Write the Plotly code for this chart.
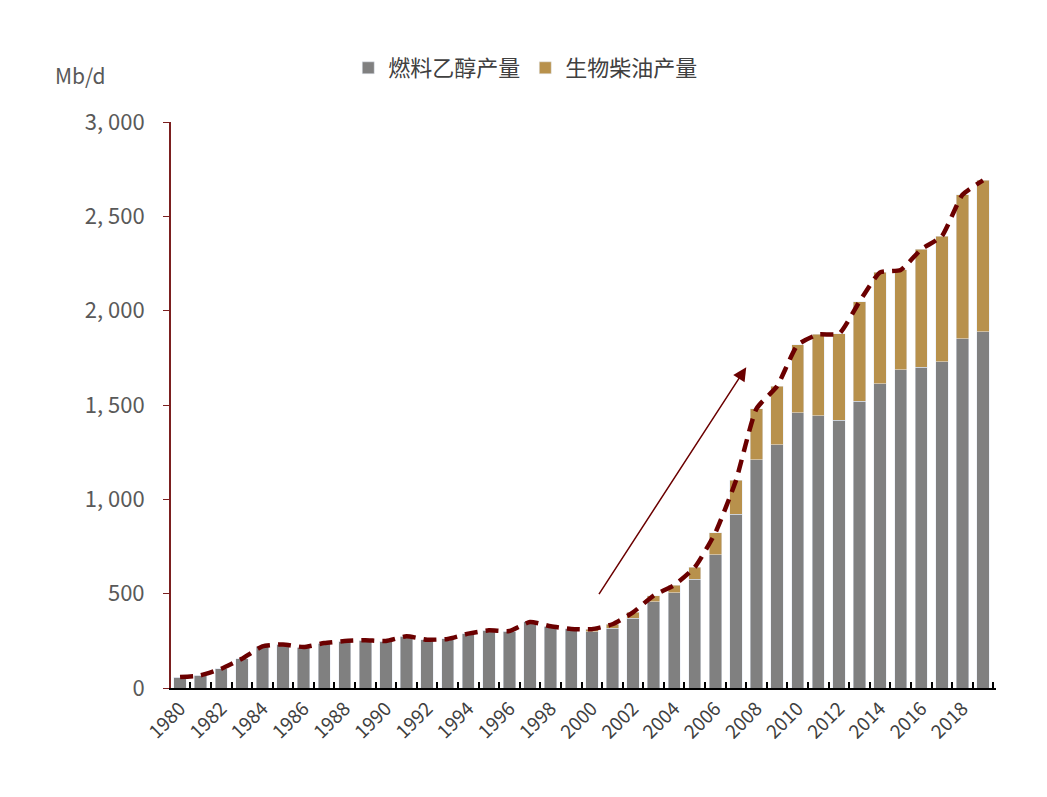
import plotly.graph_objects as go

years = list(range(1980, 2020))
ethanol = [58, 67, 102, 155, 221, 231, 217, 238, 249, 253,
           249, 274, 256, 260, 288, 306, 302, 350, 327, 313,
           297, 318, 371, 457, 505, 576, 707, 920, 1210, 1289,
           1459, 1444, 1419, 1521, 1612, 1686, 1700, 1728, 1850, 1887]
biodiesel = [0, 0, 0, 0, 0, 0, 0, 0, 0, 0,
             0, 0, 0, 0, 0, 0, 0, 0, 0, 0,
             15, 20, 30, 33, 40, 64, 116, 180, 271, 311,
             360, 430, 458, 527, 591, 530, 625, 667, 764, 804]
total = [e + b for e, b in zip(ethanol, biodiesel)]

y_ticks = [0, 500, 1000, 1500, 2000, 2500, 3000]
y_labels = ["0", "500", "1, 000", "1, 500", "2, 000", "2, 500", "3, 000"]
x_ticks = list(range(1980, 2020, 2))

grey_txt = "#595959"
dark_red = "#6B0000"

fig = go.Figure()
fig.add_trace(go.Bar(x=years, y=ethanol, name="燃料乙醇产量",
                     marker_color="#808080", width=0.6))
fig.add_trace(go.Bar(x=years, y=biodiesel, name="生物柴油产量",
                     marker_color="#B8914C", width=0.6))
fig.add_trace(go.Scatter(x=years, y=total, mode="lines", showlegend=False,
                         line=dict(color=dark_red, width=4.5, dash="13px,8px",
                                   shape="spline", smoothing=0.5)))

# trend arrow
fig.add_annotation(x=2007.5, y=1700, ax=2000.3, ay=490, xref="x", yref="y",
                   axref="x", ayref="y", showarrow=True, arrowhead=2,
                   arrowsize=1.8, arrowwidth=1.5, arrowcolor=dark_red, text="")
fig.add_annotation(x=(72 - 163) / 825, y=(688 - 75) / 566, xref="paper",
                   yref="paper", text="Mb/d", showarrow=False,
                   xanchor="center", yanchor="middle",
                   font=dict(size=21, color=grey_txt))

fig.update_layout(
    barmode="stack", width=1047, height=797,
    plot_bgcolor="white", paper_bgcolor="white",
    margin=dict(l=163, r=59, t=114, b=117),
    font=dict(family="Noto Sans CJK SC", size=20, color=grey_txt),
    legend=dict(orientation="h", x=0.43, y=(688 - 68) / 566, xanchor="center",
                yanchor="middle", traceorder="normal",
                font=dict(size=22, color="#404040")),
)
fig.update_xaxes(range=[1979.56, 2019.63], tickvals=x_ticks,
                 ticktext=[str(y) for y in x_ticks], tickangle=-45,
                 ticks="", showgrid=False, showline=True, linecolor="black",
                 linewidth=2, tickfont=dict(size=19, color="#404040"),
                 minor=dict(tickvals=[y + 0.5 for y in range(1979, 2020)],
                            ticks="inside", ticklen=6, tickcolor="black",
                            tickwidth=1.5, showgrid=False))
fig.update_yaxes(range=[0, 3000], tickvals=y_ticks, ticktext=y_labels,
                 showgrid=False, showline=True, linecolor="#7B1F1F",
                 linewidth=2, ticks="outside", tickcolor="#7B1F1F",
                 ticklen=6, ticklabelstandoff=14,
                 tickfont=dict(size=22, color=grey_txt))

fig.write_html("out.html")
